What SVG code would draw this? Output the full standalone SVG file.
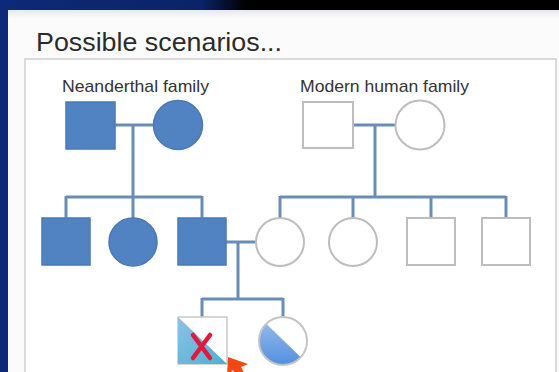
<svg xmlns="http://www.w3.org/2000/svg" width="559" height="372" viewBox="0 0 559 372">
  <style>
    .title { font-family: "Liberation Sans", Arial, sans-serif; font-size: 26px; fill: #2b2b2b; }
    .label { font-family: "Liberation Sans", Arial, sans-serif; font-size: 17px; fill: #333333; }
    .aff { fill: #5183c3; stroke: #4a79b4; stroke-width: 1.5; }
    .unaff { fill: #ffffff; stroke: #bdbdbd; stroke-width: 2; }
    .link { fill: none; stroke: #6a8db8; stroke-width: 3; }
  </style>
  <defs>
    <linearGradient id="topBand" x1="0" y1="0" x2="1" y2="0">
      <stop offset="0" stop-color="#0d2a78"/>
      <stop offset="0.36" stop-color="#0b2368"/>
      <stop offset="0.44" stop-color="#000000"/>
      <stop offset="1" stop-color="#000000"/>
    </linearGradient>
    <linearGradient id="panelTop" x1="0" y1="0" x2="0" y2="1">
      <stop offset="0" stop-color="#e6e8ee"/>
      <stop offset="1" stop-color="#ffffff"/>
    </linearGradient>
    <linearGradient id="sqFill" x1="0" y1="0" x2="1" y2="1">
      <stop offset="0" stop-color="#8ec0ea"/>
      <stop offset="1" stop-color="#4fb0cf"/>
    </linearGradient>
    <linearGradient id="circFill" x1="0" y1="0" x2="0" y2="1">
      <stop offset="0" stop-color="#a8c8f0"/>
      <stop offset="1" stop-color="#4686db"/>
    </linearGradient>
    <clipPath id="childCircleClip">
      <circle cx="283" cy="341" r="24"/>
    </clipPath>
  </defs>

  <!-- window frame -->
  <rect x="0" y="0" width="559" height="372" fill="#0d2a78"/>
  <rect x="0" y="0" width="559" height="11" fill="url(#topBand)"/>
  <rect x="8" y="10" width="551" height="362" fill="#fbfbfb"/>
  <rect x="8" y="10" width="551" height="10" fill="url(#panelTop)"/>

  <text class="title" x="36" y="51" textLength="246" lengthAdjust="spacingAndGlyphs">Possible scenarios...</text>

  <!-- pedigree frame -->
  <rect x="25" y="59" width="531" height="330" fill="#ffffff" stroke="#cfcfcf" stroke-width="1.5"/>

  <text class="label" x="62" y="92" textLength="147" lengthAdjust="spacingAndGlyphs">Neanderthal family</text>
  <text class="label" x="300" y="92" textLength="169" lengthAdjust="spacingAndGlyphs">Modern human family</text>

  <!-- connectors -->
  <g id="connectors">
    <path class="link" d="M115 125 H153 M133 125 V197 M66 197 H202 M66 196 V219 M133 196 V219 M202 196 V219"/>
    <path class="link" d="M353 125 H395 M375 125 V197 M280 197 H506 M280 196 V219 M353 196 V219 M431 196 V219 M506 196 V219"/>
    <path class="link" d="M226 242 H256 M238 242 V299 M202 299 H283 M202 298 V318 M283 298 V318"/>
  </g>

  <!-- parents -->
  <g id="neanderthal-father"><rect class="aff" x="66" y="102" width="49" height="47"/></g>
  <g id="neanderthal-mother"><circle class="aff" cx="178" cy="125" r="24.5"/></g>
  <g id="modern-father"><rect class="unaff" x="303" y="102" width="50" height="46"/></g>
  <g id="modern-mother"><circle class="unaff" cx="420" cy="125" r="24.5"/></g>

  <!-- second generation -->
  <g id="neanderthal-son-1"><rect class="aff" x="42" y="218" width="48" height="47"/></g>
  <g id="neanderthal-daughter"><circle class="aff" cx="133" cy="242" r="24"/></g>
  <g id="neanderthal-son-2"><rect class="aff" x="178" y="218" width="48" height="47"/></g>
  <g id="modern-daughter-1"><circle class="unaff" cx="280" cy="242" r="24"/></g>
  <g id="modern-daughter-2"><circle class="unaff" cx="353" cy="242" r="24"/></g>
  <g id="modern-son-1"><rect class="unaff" x="407" y="218" width="48" height="47"/></g>
  <g id="modern-son-2"><rect class="unaff" x="482" y="218" width="48" height="47"/></g>

  <!-- hybrid offspring -->
  <g id="hybrid-son">
    <rect x="178" y="317" width="49" height="47" fill="#ffffff" stroke="#c9c9c9" stroke-width="1.5"/>
    <polygon points="178,317 227,364 178,364" fill="url(#sqFill)"/>
    <path d="M193 335 L210 358 M210 335 L193 358" stroke="#e2183c" stroke-width="4.5" stroke-linecap="round"/>
  </g>
  <g id="hybrid-daughter">
    <circle cx="283" cy="341" r="24" fill="#ffffff"/>
    <polygon points="250,308 318,374 250,374" fill="url(#circFill)" clip-path="url(#childCircleClip)"/>
    <circle cx="283" cy="341" r="24" fill="none" stroke="#c4c4c4" stroke-width="2"/>
  </g>

  <!-- pointer -->
  <polygon points="228,357 248,364 241,367 247,378 237,378 233,370 227,376" fill="#f04a12"/>
</svg>
